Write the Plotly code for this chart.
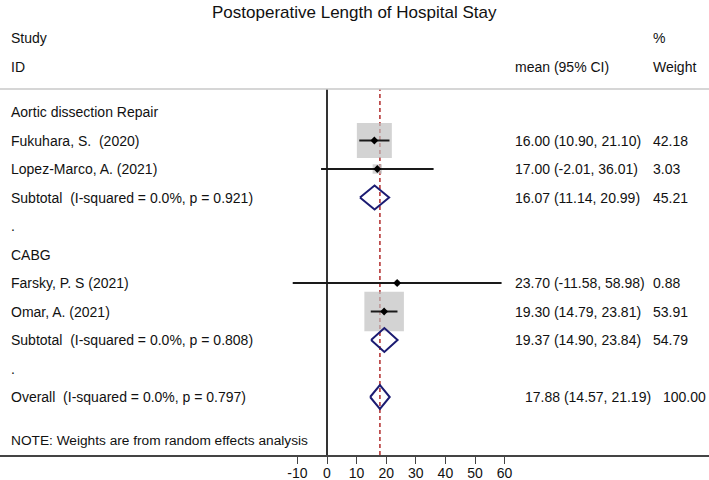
import plotly.graph_objects as go

# ---------------- data ----------------
title = "Postoperative Length of Hospital Stay"
groups = ["Aortic dissection Repair", "CABG"]
studies = ["Fukuhara, S.  (2020)", "Lopez-Marco, A. (2021)", "Farsky, P. S (2021)", "Omar, A. (2021)"]
study_group = [0, 0, 1, 1]
est = [16.00, 17.00, 23.70, 19.30]
lo = [10.90, -2.01, -11.58, 14.79]
hi = [21.10, 36.01, 58.98, 23.81]
weight = [42.18, 3.03, 0.88, 53.91]

sub_labels = ["Subtotal  (I-squared = 0.0%, p = 0.921)", "Subtotal  (I-squared = 0.0%, p = 0.808)"]
sub_est = [16.07, 19.37]
sub_lo = [11.14, 14.90]
sub_hi = [20.99, 23.84]
sub_w = [45.21, 54.79]

overall_label = "Overall  (I-squared = 0.0%, p = 0.797)"
overall_est = 17.88
overall_lo = 14.57
overall_hi = 21.19
overall_w = 100.00

note = "NOTE: Weights are from random effects analysis"
tick_vals = [-10, 0, 10, 20, 30, 40, 50, 60]
tick_text = ["-10", "0", "10", "20", "30", "40", "50", "60"]

# ---------------- layout constants ----------------
W, H = 709, 480
M_T, M_B = 89, 25
PLOT_H = H - M_T - M_B
PPU = 2.96          # pixels per x unit
X0 = 327            # pixel of x = 0
ROW0 = 112          # pixel of first row centre
ROW_H = 28.5
FONT = "Liberation Sans, Arial, sans-serif"
FS = 14
TXT = "#111111"
NAVY = "#1b1b72"
RED = "#b02a2a"
BOX = "#c0c0c0"


def sp(s):
    return s.replace("  ", " \u00a0")


def px_to_paper_x(px):
    return px / W


def px_to_paper_y(py):
    return (H - M_B - py) / PLOT_H


# rows
study_rows = []
sub_rows = []
group_rows = []
dot_rows = []
r = 0
for g in range(len(groups)):
    group_rows.append(r); r += 1
    for i, sg in enumerate(study_group):
        if sg == g:
            study_rows.append(r); r += 1
    sub_rows.append(r); r += 1
    dot_rows.append(r); r += 1
overall_row = r
note_row = r + 1.54

fig = go.Figure()

# boxes
K = 35 / (42.18 ** 0.5)
fig.add_trace(go.Scatter(
    x=est, y=study_rows, mode="markers",
    marker=dict(symbol="square", size=[K * w ** 0.5 for w in weight], color=BOX, line=dict(width=0)),
    hoverinfo="skip", showlegend=False))

# CI lines
cx, cy = [], []
for l, h, yy in zip(lo, hi, study_rows):
    cx += [l, h, None]
    cy += [yy, yy, None]
fig.add_trace(go.Scatter(x=cx, y=cy, mode="lines", line=dict(color="#1a1a1a", width=2),
                         hoverinfo="skip", showlegend=False))

# point estimates
fig.add_trace(go.Scatter(x=est, y=study_rows, mode="markers",
                         marker=dict(symbol="diamond", size=6, color="#000000"),
                         hoverinfo="skip", showlegend=False))

# diamonds
HD = 0.42
dx, dy = [], []
for e, l, h, yy in zip(sub_est + [overall_est], sub_lo + [overall_lo], sub_hi + [overall_hi], sub_rows + [overall_row]):
    dx += [l, e, h, e, l, None]
    dy += [yy, yy - HD, yy, yy + HD, yy, None]
fig.add_trace(go.Scatter(x=dx, y=dy, mode="lines", line=dict(color=NAVY, width=2),
                         hoverinfo="skip", showlegend=False))

ann = []


def add_text(text, xpx, y, yref="y", size=FS, xanchor="left"):
    ann.append(dict(text=sp(text), x=px_to_paper_x(xpx), xref="paper", y=y, yref=yref,
                    xanchor=xanchor, yanchor="middle", showarrow=False,
                    font=dict(family=FONT, size=size, color=TXT)))


# header
add_text(title, 354, px_to_paper_y(12), "paper", size=17, xanchor="center")
add_text("Study", 9, px_to_paper_y(38), "paper")
add_text("ID", 9, px_to_paper_y(67), "paper")
add_text("%", 651, px_to_paper_y(38), "paper")
add_text("mean (95% CI)", 513, px_to_paper_y(67), "paper")
add_text("Weight", 651, px_to_paper_y(67), "paper")

for g, yy in zip(groups, group_rows):
    add_text(g, 9, yy)
for s, e, l, h, w, yy in zip(studies, est, lo, hi, weight, study_rows):
    add_text(s, 9, yy)
    add_text(f"{e:.2f} ({l:.2f}, {h:.2f})", 513, yy)
    add_text(f"{w:.2f}", 651, yy)
for s, e, l, h, w, yy in zip(sub_labels, sub_est, sub_lo, sub_hi, sub_w, sub_rows):
    add_text(s, 9, yy)
    add_text(f"{e:.2f} ({l:.2f}, {h:.2f})", 513, yy)
    add_text(f"{w:.2f}", 651, yy)
for yy in dot_rows:
    add_text(".", 9, yy)
add_text(overall_label, 9, overall_row)
add_text(f"{overall_est:.2f} ({overall_lo:.2f}, {overall_hi:.2f})", 523, overall_row)
add_text(f"{overall_w:.2f}", 661, overall_row)
add_text(note, 9, note_row, size=13.7)

shapes = [
    dict(type="line", xref="paper", yref="paper", x0=0, x1=1, y0=1, y1=1,
         line=dict(color="#c8c8c8", width=1.5)),
    dict(type="line", xref="x", yref="paper", x0=0, x1=0, y0=0, y1=1,
         line=dict(color="#000000", width=1.6), layer="below"),
    dict(type="line", xref="x", yref="paper", x0=overall_est, x1=overall_est, y0=0, y1=1,
         line=dict(color=RED, width=1.5, dash="4px,3px"), layer="below"),
]

fig.update_layout(
    width=W, height=H,
    margin=dict(l=0, r=0, t=M_T, b=M_B, pad=0, autoexpand=False),
    paper_bgcolor="white", plot_bgcolor="white",
    annotations=ann, shapes=shapes,
    xaxis=dict(range=[-X0 / PPU, (W - X0) / PPU], tickvals=tick_vals, ticktext=tick_text,
               automargin=False,
               showline=True, linecolor="#444444", linewidth=1.5,
               ticks="outside", ticklen=7, tickwidth=1.3, tickcolor="#444444",
               ticklabelstandoff=-3,
               showgrid=False, zeroline=False, fixedrange=True,
               tickfont=dict(family=FONT, size=FS, color=TXT)),
    yaxis=dict(range=[(H - M_B - ROW0) / ROW_H, (M_T - ROW0) / ROW_H], visible=False,
               automargin=False,
               showgrid=False, zeroline=False, fixedrange=True),
)

fig.write_html("out.html", config={"displayModeBar": False},
               post_script="document.body.style.margin='0px';document.body.style.overflow='hidden';")
